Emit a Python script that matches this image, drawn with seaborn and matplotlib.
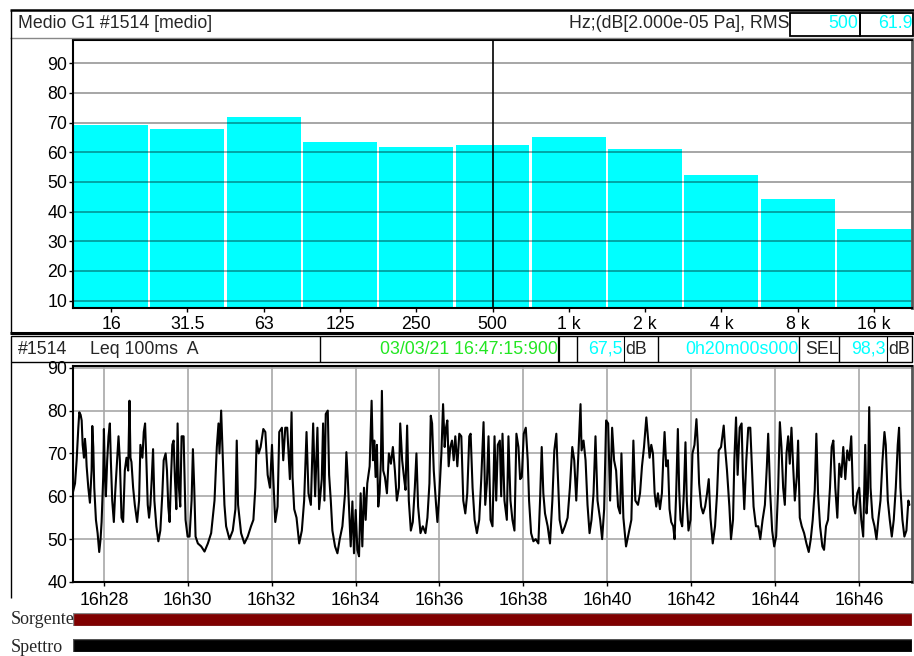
import matplotlib
matplotlib.use("Agg")
import matplotlib.pyplot as plt
import seaborn as sns
import numpy as np
import pandas as pd
from matplotlib.patches import Rectangle
from matplotlib.ticker import FixedLocator, FixedFormatter

# ---------------- data ----------------
bands = ["16", "31.5", "63", "125", "250", "500", "1 k", "2 k", "4 k", "8 k", "16 k"]
band_levels = [69.2, 67.9, 71.9, 63.5, 61.8, 62.4, 65.2, 61.1, 52.3, 44.2, 34.1]
cursor_band = "500"
cursor_value = "61.9"
bar_yticks = [10, 20, 30, 40, 50, 60, 70, 80, 90]

start_hms = (16, 27, 15.9)
duration_s = 1200
leq_value = "67,5"
sel_value = "98,3"
date_label = "03/03/21 16:47:15:900"
duration_label = "0h20m00s000"

# seconds since start of measurement
t_offsets = [
    0, 2.9, 5.2, 7.6, 9.0, 10.9, 12.4, 13.8, 15.7, 17.1, 18.5, 19.5, 21.9, 24.2, 26.6, 27.6, 29.0,
    30.4, 32.8, 35.2, 37.5, 39.4, 40.9, 43.2, 44.2, 45.6, 47.0, 48.9, 50.8, 52.7, 54.2, 56.1, 58.4,
    60.3, 62.2, 65.1, 67.0, 69.4, 71.7, 74.1, 76.5, 78.9, 80.8, 82.2, 83.6, 86.0, 88.4, 91.7, 94.5,
    96.4, 99.3, 101.2, 103.1, 105.0, 106.9, 108.8, 110.7, 112.6, 114.5, 116.4, 119.2, 122.1, 124.9,
    127.8, 129.7, 132.5, 134.4, 136.3, 138.2, 140.1, 142.0, 143.9, 145.8, 147.8, 149.6, 151.5, 153.4,
    155.3, 158.2, 161.0, 163.9, 166.7, 169.6, 171.5, 173.4, 175.3, 178.6, 183.4, 188.1, 192.9, 197.6,
    202.4, 205.7, 208.1, 209.5, 211.9, 214.3, 216.6, 219.0, 223.8, 228.5, 232.3, 234.2, 236.1, 240.4,
    245.1, 249.9, 254.6, 258.0, 260.8, 262.7, 265.6, 268.4, 272.2, 275.1, 278.4, 281.7, 284.6, 286.5,
    289.3, 292.6, 295.0, 298.8, 300.7, 303.6, 306.4, 308.3, 310.2, 312.6, 314.0, 316.4, 319.7, 323.5,
    327.3, 330.6, 334.0, 336.8, 340.2, 343.5, 346.3, 349.6, 352.0, 355.8, 357.7, 359.6, 361.5, 364.4,
    366.3, 368.7, 371.0, 374.8, 378.2, 381.5, 385.3, 389.1, 391.0, 392.9,
    397.2, 399.6, 401.9, 404.3, 406.7, 409.1, 411.4, 413.8, 416.2, 418.6, 420.9, 424.3, 427.1, 429.0,
    430.9, 432.8, 434.7, 436.6, 438.5, 440.4, 441.8, 443.7, 446.1, 449.0, 451.8, 454.7, 457.5, 460.4,
    463.2, 466.1, 468.0, 470.8, 473.7, 475.6, 477.9, 480.3, 483.2, 486.0, 488.9, 491.2, 493.6, 497.0,
    500.3, 504.1, 506.9, 509.8, 511.7, 513.6, 516.0, 519.3, 521.2, 524.0, 526.9, 529.3, 531.6, 533.5,
    535.4, 537.3, 539.7, 542.1, 544.5, 546.8, 549.7, 552.5, 555.4, 558.2, 561.1, 563.9, 566.8, 568.7,
    571.5, 574.4, 577.7, 581.0, 583.9, 587.2, 589.6, 592.0, 594.3, 597.2, 600.0, 602.9, 605.3, 607.6,
    610.5, 612.4, 614.3, 617.1, 620.5, 622.8, 625.7, 628.5, 631.4, 634.2, 637.1, 639.5, 641.9, 644.7,
    647.6, 650.4, 652.3, 655.2, 658.5, 661.8, 665.6, 668.0, 670.4, 672.7, 675.1, 678.9, 682.2, 685.6,
    688.4, 691.3, 693.2, 696.0, 699.8, 703.6, 707.4, 710.7, 714.1, 716.9, 719.8, 722.6, 725.9, 727.4,
    730.2, 733.1, 735.9, 738.8, 741.6, 744.5, 747.3, 750.2, 754.0, 756.8, 759.7, 762.5, 765.4, 768.2,
    771.1, 773.9, 776.8, 779.6, 782.5, 784.4, 787.2, 791.0, 794.8, 798.6, 801.5, 804.3, 808.1, 811.0,
    813.8, 816.7, 820.0,
    824.7, 827.1, 829.5, 831.9, 834.2, 836.6, 839.5, 842.3, 844.2, 846.1, 848.5, 850.9, 853.2, 855.6,
    858.5, 860.4, 862.7, 865.1, 867.0, 868.9, 871.3, 873.7, 876.0, 877.9, 880.3, 883.2, 886.0, 888.9,
    891.7, 893.6, 895.5, 898.4, 901.2, 904.1, 906.9, 909.3, 911.7, 915.0, 918.3, 921.2, 923.6, 926.9,
    930.7, 932.6, 935.4, 938.8, 941.1, 944.0, 945.9, 948.3, 950.6, 953.5, 956.3, 958.2, 960.1, 963.0,
    965.8, 968.7, 970.6, 973.4, 976.8, 980.1, 983.0, 986.3, 989.6, 992.4, 994.3, 997.2, 1000.0, 1002.9,
    1005.7, 1008.6, 1011.0, 1013.3, 1015.7, 1018.1, 1020.5, 1022.9, 1025.2, 1027.6, 1030.0, 1032.4,
    1035.2, 1037.1, 1039.5, 1042.3, 1045.7, 1049.0, 1052.3, 1055.2, 1058.0, 1060.9, 1063.2, 1065.6,
    1068.5, 1071.8, 1074.2, 1077.0, 1079.9, 1082.7, 1085.1, 1087.5, 1090.3, 1093.2, 1096.0, 1098.9,
    1101.7, 1104.6, 1107.4, 1110.3, 1113.1, 1116.0, 1118.8, 1121.7, 1124.5, 1127.4, 1130.2, 1133.1,
    1135.0, 1136.9, 1138.8, 1140.7, 1143.5, 1146.4, 1149.2, 1152.1, 1154.9, 1157.8, 1160.6, 1162.5,
    1165.4, 1168.2, 1171.1, 1173.9, 1176.8, 1179.6, 1181.5, 1183.4, 1186.3, 1189.1, 1192.0, 1194.8,
    1196.3,
]
leq = [
    61, 63, 68.4, 76, 79.6, 79, 77.7, 72, 69, 73.4, 70.7, 67, 62, 58.5, 66, 76.4, 71.5,
    62, 54.5, 51.4, 47, 50, 54, 64.5, 75.7, 65, 60, 68.4, 74, 77, 68, 59, 54,
    60.7, 66, 74, 68.4, 55, 54, 66, 69, 66, 82.3, 69, 68, 62, 58, 54, 59,
    72, 69, 75, 77, 68, 58, 55, 58, 64, 71, 59, 53, 49.5, 52,
    60.7, 68.4, 70, 66, 57.6, 54, 64, 72, 73, 64, 57, 77, 62, 57.6,
    74, 74, 54.5, 50.6, 50.6, 59, 71, 62, 50.6, 49, 48.3, 47.1, 49, 51.4,
    59, 71.5, 77, 70, 80, 68.4, 58, 53, 50, 52, 57, 73, 58, 51.4,
    49, 50.6, 53, 54.5, 62, 73, 70, 71.5, 75.7, 75, 65, 62, 72, 64,
    54, 57.6, 75, 76, 68.4, 76, 76, 70, 64, 79.6, 64.5, 57, 55, 49,
    52, 59, 75, 60.7, 58, 77, 60, 76, 57, 64, 77, 59, 79.2, 80,
    65, 59, 52, 48.3, 46.7, 50, 53, 60.7, 70.3, 64.5,
    48.3, 58.8, 46.7, 56.8, 47.5, 46, 60.7, 48.3, 62, 54.5, 63, 67, 82.3, 68.4,
    73, 64.5, 72, 57.6, 60.7, 68.4, 84.6, 66, 64.5, 60.7, 70, 67.6, 71.5, 66,
    59, 62, 77, 68.4, 64, 61.5, 76.5, 59, 52, 54, 62, 70, 57.6, 51.4,
    53, 51.4, 55, 63, 78.8, 77, 66, 58, 54, 60.7, 70, 81.5, 71.5, 76,
    77.7, 67, 71.5, 73, 68.4, 74, 67, 74.6, 74, 59, 56, 60.7, 74, 74.6,
    62, 54.5, 51.4, 54.5, 64, 77.3, 58, 63, 74, 54.5, 53, 74, 59, 72,
    73, 60, 74.6, 59, 54.5, 74, 59, 54.5, 52, 74.6, 71.5, 64, 64.5, 74.6,
    76, 68.4, 59, 51.4, 49.5, 50, 49, 59, 71.5, 60.7, 56, 53, 49, 59,
    70.7, 74.6, 66, 54.5, 51.4, 53, 55, 62, 71.5, 68.4, 59, 69, 81.5, 70.7,
    73, 68.4, 58, 51.4, 54.5, 60.7, 74, 59, 54.5, 50, 57, 77.7, 77, 59,
    76, 68.4, 66, 57.6, 56, 70, 55, 48.3, 51.4, 54.5, 73, 59, 58, 60.7,
    67, 71.5, 78.4,
    69, 72, 70, 60.7, 57.6, 60.7, 57, 60.7, 68.4, 75, 67, 68.4, 57, 54,
    53, 50, 60.7, 75.7, 61.5, 54.5, 53, 60.7, 72.6, 59, 52, 54.5, 70, 72,
    78, 72, 63, 57.6, 56, 57.6, 60.7, 64, 55, 49, 53, 60.7, 70.7, 71.5,
    76.5, 71.5, 66, 57.6, 50, 54.5, 68.4, 78.4, 65, 76, 77, 64.5, 57, 68.4,
    76, 76, 68.4, 57.6, 53, 53, 50, 54.5, 58, 67, 74.6, 60.7, 52, 48.3,
    50.6, 62, 77.3, 71.5, 62, 58, 70, 74, 67.6, 76, 67, 59,
    64.5, 73, 55, 53, 51.4, 49, 47, 50, 54.5, 61.5, 74.6, 60.7,
    53, 48.3, 47.5, 53, 54.5, 62, 71.5, 73, 62, 55, 67.6, 64.5,
    71.5, 64, 70.7, 68.4, 74, 58, 56, 60.7, 62, 54.5, 50.6, 72,
    56, 60.7, 80.8, 62, 55, 53, 50, 55, 59, 68.4, 75, 72,
    59, 54.5, 50.6, 54.5, 62, 72, 76, 62, 54.5, 50.6, 52, 59,
    58,
]
time_tick_labels = ["16h28", "16h30", "16h32", "16h34", "16h36", "16h38", "16h40", "16h42", "16h44", "16h46"]
leq_yticks = [40, 50, 60, 70, 80, 90]

# ---------------- setup ----------------
sns.set_theme(style="white")
plt.rcParams["font.family"] = ["Liberation Sans", "DejaVu Sans"]
FS = 12.8

W, H = 914, 656
fig = plt.figure(figsize=(W / 100, H / 100), dpi=100)
fig.patch.set_facecolor("white")


def frac(x0, y0, x1, y1):
    return [x0 / W, 1 - y1 / H, (x1 - x0) / W, (y1 - y0) / H]


# ---------------- spectrum bar chart ----------------
ax1 = fig.add_axes(frac(73, 40, 912, 308))
df_bands = pd.DataFrame({"band": bands, "level": band_levels})
sns.barplot(data=df_bands, x="band", y="level", color="#00ffff", saturation=1,
            width=0.97, ax=ax1, zorder=1)
for p in ax1.patches:
    p.set_edgecolor("none")
ax1.set_ylim(7.5, 97.8)
ax1.set_xlim(-0.5, len(bands) - 0.5)
for v in bar_yticks:
    ax1.axhline(v, color="black", alpha=0.35, lw=1.4, zorder=2)
ax1.axvline(bands.index(cursor_band), color="black", lw=1.2, zorder=3)
ax1.set_yticks(bar_yticks)
ax1.set_xlabel("")
ax1.set_ylabel("")
ax1.tick_params(axis="both", labelsize=FS, colors="black", direction="out", length=3, width=1,
                left=True, bottom=True)
ax1.tick_params(axis="y", pad=1)
ax1.tick_params(axis="x", pad=3)
for s in ["left", "bottom", "top"]:
    ax1.spines[s].set_color("black")
    ax1.spines[s].set_linewidth(1.5)
ax1.spines["right"].set_color("#555555")
ax1.spines["right"].set_linewidth(2)

# ---------------- Leq time history ----------------
start_s = start_hms[0] * 3600 + start_hms[1] * 60 + start_hms[2]
times = [start_s + t for t in t_offsets]
df_leq = pd.DataFrame({"time": times, "leq": leq})

ax2 = fig.add_axes(frac(73, 366, 912, 582))
tick_pos = [int(l[:2]) * 3600 + int(l[3:]) * 60 for l in time_tick_labels]
for tp in tick_pos:
    ax2.axvline(tp, color="#a8a8a8", lw=1.2, zorder=0)
for v in leq_yticks:
    ax2.axhline(v, color="#a8a8a8", lw=1.2, zorder=0)
sns.lineplot(data=df_leq, x="time", y="leq", color="black", lw=1.5, ax=ax2, zorder=3)
ax2.set_xlim(start_s, start_s + duration_s)
ax2.set_ylim(40, 90.4)
ax2.xaxis.set_major_locator(FixedLocator(tick_pos))
ax2.xaxis.set_major_formatter(FixedFormatter(time_tick_labels))
ax2.set_yticks(leq_yticks)
ax2.set_xlabel("")
ax2.set_ylabel("")
ax2.tick_params(axis="both", labelsize=FS, colors="black", direction="out", length=3, width=1,
                left=True, bottom=True)
ax2.tick_params(axis="y", pad=1)
ax2.tick_params(axis="x", pad=4)
for s in ["left", "bottom", "top"]:
    ax2.spines[s].set_color("black")
    ax2.spines[s].set_linewidth(1.5)
ax2.spines["right"].set_color("#555555")
ax2.spines["right"].set_linewidth(2)

# ---------------- Sorgente / Spettro strips ----------------
for (y0, y1, col, ec) in [(613, 626, "#800000", "#888888"), (639, 652, "black", "#555555")]:
    axs = fig.add_axes(frac(73, y0, 912, y1))
    axs.barh([0], [duration_s], left=[start_s], height=1.0, color=col, edgecolor=ec, lw=1)
    axs.set_xlim(start_s, start_s + duration_s)
    axs.set_ylim(-0.5, 0.5)
    axs.axis("off")

# ---------------- overlay (headers, frames, labels) ----------------
ov = fig.add_axes([0, 0, 1, 1], zorder=10)
ov.set_xlim(0, W)
ov.set_ylim(H, 0)
ov.axis("off")
ov.patch.set_visible(False)


def hl(x0, x1, y, lw=0.8, c="black"):
    ov.plot([x0, x1], [y, y], color=c, lw=lw, solid_capstyle="butt")


def vl(x, y0, y1, lw=0.8, c="black"):
    ov.plot([x, x], [y0, y1], color=c, lw=lw, solid_capstyle="butt")


def rect(x0, y0, x1, y1, lw=1.0, ec="black"):
    ov.add_patch(Rectangle((x0, y0), x1 - x0, y1 - y0, fill=False, ec=ec, lw=lw))


CYAN = "#00ffff"
GREEN = "#22e622"

# top header
hl(10, 914, 10, lw=1.8)
hl(10, 914, 37.5, lw=1.0, c="#888888")
vl(10.5, 10, 333, lw=1.0)
rect(790, 12.5, 860, 35.5, lw=1.3)
rect(860, 12.5, 913, 35.5, lw=1.3)
ov.text(18, 24, "Medio G1 #1514 [medio]", fontsize=FS, va="center", ha="left")
t = ov.text(569, 24, "Hz;(dB[2.000e-05 Pa], RMS", fontsize=FS, va="center", ha="left")
clip = Rectangle((0, 0), 787, H, transform=ov.transData)
t.set_clip_path(clip)
ov.text(858, 24, cursor_band, fontsize=FS, va="center", ha="right", color=CYAN)
ov.text(913, 24, cursor_value, fontsize=FS, va="center", ha="right", color=CYAN)

# second header
hl(10, 914, 333, lw=2.2)
rect(10.5, 336, 912, 362, lw=1.0)
for xv, lw in [(320, 1.0), (559, 1.6), (577, 1.0), (624, 0.8), (658, 1.0), (799, 1.0), (839, 1.0), (887, 0.8)]:
    vl(xv, 336, 362, lw=lw)
vl(10.5, 362, 598, lw=1.0)
ov.text(18, 349, "#1514", fontsize=FS, va="center", ha="left")
ov.text(90, 349, "Leq 100ms  A", fontsize=FS, va="center", ha="left")
ov.text(558, 349, date_label, fontsize=FS, va="center", ha="right", color=GREEN)
ov.text(623, 349, leq_value, fontsize=FS, va="center", ha="right", color=CYAN)
ov.text(625, 349, "dB", fontsize=FS, va="center", ha="left")
ov.text(799, 349, duration_label, fontsize=FS, va="center", ha="right", color=CYAN)
ov.text(805, 349, "SEL", fontsize=FS, va="center", ha="left")
ov.text(886, 349, sel_value, fontsize=FS, va="center", ha="right", color=CYAN)
ov.text(888, 349, "dB", fontsize=FS, va="center", ha="left")

# strip labels
ov.text(11, 620, "Sorgente", fontsize=13, va="center", ha="left", family=["Liberation Serif", "DejaVu Serif"])
ov.text(11, 647, "Spettro", fontsize=13, va="center", ha="left", family=["Liberation Serif", "DejaVu Serif"])

fig.savefig("out.png", dpi=100, facecolor="white")
